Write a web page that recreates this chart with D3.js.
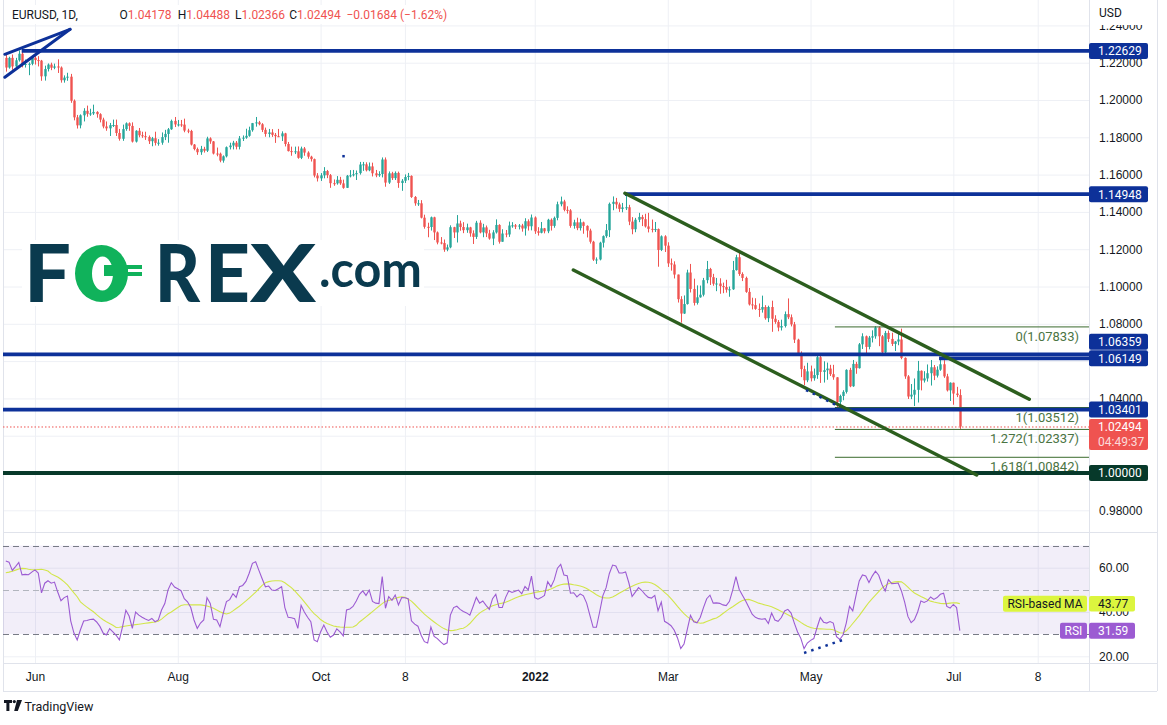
<!DOCTYPE html>
<html>
<head>
<meta charset="utf-8">
<script src="https://cdn.jsdelivr.net/npm/d3@7/dist/d3.min.js"></script>
<style>
  html, body { margin: 0; padding: 0; background: #ffffff; }
  svg { display: block; font-family: Roboto, "Liberation Sans", Arial, sans-serif; }
</style>
</head>
<body>
<svg id="chart" width="1167" height="725"></svg>
<script>
// ---------- EURUSD daily, 19 May 2021 – 5 Jul 2022 ----------
const symbolTitle = "EURUSD, 1D,";
const firstOpen = 1.2226;            // open of the first session; later opens follow the prior close
const closes = [
  1.2174,1.2226,1.2180,1.2213,1.2248,1.2192,1.2193,1.2194,1.2226,
  1.2214,1.2211,1.2127,1.2166,1.2190,1.2173,1.2180,1.2174,1.2106,1.2120,
  1.2125,1.1996,1.1907,1.1864,1.1918,1.1942,1.1926,1.1928,1.1936,1.1924,
  1.1895,1.1858,1.1848,1.1865,1.1866,1.1823,1.1792,1.1844,1.1875,1.1861,
  1.1777,1.1835,1.1811,1.1806,1.1802,1.1779,1.1795,1.1770,1.1771,1.1801,
  1.1818,1.1843,1.1888,1.1869,1.1869,1.1868,1.1836,1.1834,1.1761,1.1737,
  1.1720,1.1738,1.1728,1.1794,1.1778,1.1713,1.1712,1.1675,1.1698,1.1747,
  1.1756,1.1771,1.1749,1.1794,1.1798,1.1808,1.1838,1.1876,1.1880,1.1870,
  1.1840,1.1818,1.1826,1.1813,1.1806,1.1805,1.1821,1.1764,1.1726,1.1725,
  1.1725,1.1690,1.1740,1.1718,1.1696,1.1683,1.1595,1.1580,1.1596,1.1619,
  1.1597,1.1554,1.1553,1.1572,1.1553,1.1529,1.1594,1.1596,1.1602,1.1608,
  1.1654,1.1655,1.1623,1.1644,1.1607,1.1596,1.1603,1.1681,1.1557,1.1607,
  1.1581,1.1609,1.1555,1.1567,1.1587,1.1593,1.1480,1.1446,1.1446,1.1369,
  1.1320,1.1319,1.1371,1.1290,1.1236,1.1233,1.1198,1.1210,1.1318,1.1290,
  1.1338,1.1319,1.1302,1.1317,1.1285,1.1266,1.1342,1.1290,1.1317,1.1285,
  1.1257,1.1290,1.1330,1.1240,1.1284,1.1279,1.1327,1.1328,1.1321,1.1327,
  1.1311,1.1350,1.1323,1.1370,1.1296,1.1288,1.1312,1.1296,1.1358,1.1325,
  1.1368,1.1441,1.1456,1.1411,1.1408,1.1325,1.1344,1.1313,1.1344,1.1325,
  1.1300,1.1240,1.1144,1.1145,1.1235,1.1270,1.1302,1.1443,1.1454,1.1440,
  1.1416,1.1424,1.1425,1.1348,1.1307,1.1358,1.1373,1.1361,1.1322,1.1309,
  1.1307,1.1308,1.1196,1.1269,1.1219,1.1124,1.1118,1.1064,1.0932,1.0855,
  1.0906,1.1075,1.0987,1.0912,1.0942,1.0956,1.1034,1.1094,1.1050,1.1015,
  1.1016,1.1002,1.0997,1.0983,1.0985,1.1088,1.1157,1.1067,1.1046,1.0971,
  1.0904,1.0900,1.0880,1.0876,1.0890,1.0830,1.0890,1.0827,1.0810,1.0780,
  1.0788,1.0852,1.0835,1.0797,1.0715,1.0636,1.0557,1.0497,1.0545,1.0508,
  1.0525,1.0621,1.0542,1.0551,1.0560,1.0530,1.0513,1.0381,1.0413,1.0435,
  1.0553,1.0465,1.0585,1.0562,1.0690,1.0733,1.0676,1.0726,1.0733,1.0780,
  1.0733,1.0647,1.0751,1.0719,1.0692,1.0705,1.0716,1.0617,1.0518,1.0410,
  1.0420,1.0446,1.0548,1.0496,1.0507,1.0535,1.0567,1.0522,1.0554,1.0583,
  1.0518,1.0443,1.0484,1.0426,1.04178,1.02494
];
const highs = [
  1.2245,1.2232,1.2244,1.2226,1.2266,1.2263,1.2217,1.2202,1.2231,
  1.2254,1.2235,1.2215,1.2184,1.2196,1.2200,1.2195,1.2218,1.2180,1.2132,
  1.2146,1.2140,1.2003,1.1920,1.1923,1.1956,1.1970,1.1953,1.1975,1.1940,
  1.1929,1.1905,1.1885,1.1877,1.1895,1.1895,1.1845,1.1868,1.1880,1.1880,
  1.1880,1.1838,1.1850,1.1830,1.1830,1.1810,1.1802,1.1830,1.1790,1.1826,
  1.1840,1.1850,1.1895,1.1909,1.1893,1.1893,1.1900,1.1846,1.1840,1.1764,
  1.1745,1.1754,1.1749,1.1803,1.1800,1.1780,1.1745,1.1718,1.1703,1.1751,
  1.1771,1.1781,1.1780,1.1807,1.1810,1.1846,1.1857,1.1877,1.1909,1.1888,
  1.1876,1.1852,1.1845,1.1844,1.1823,1.1845,1.1832,1.1824,1.1775,1.1750,
  1.1750,1.1751,1.1750,1.1748,1.1725,1.1701,1.1686,1.1608,1.1608,1.1640,
  1.1625,1.1603,1.1574,1.1592,1.1588,1.1573,1.1598,1.1624,1.1625,1.1622,
  1.1668,1.1668,1.1666,1.1665,1.1664,1.1625,1.1618,1.1692,1.1692,1.1617,
  1.1615,1.1617,1.1616,1.1576,1.1601,1.1609,1.1596,1.1485,1.1464,1.1463,
  1.1385,1.1342,1.1375,1.1374,1.1295,1.1265,1.1252,1.1225,1.1328,1.1320,
  1.1383,1.1353,1.1345,1.1337,1.1320,1.1301,1.1352,1.1355,1.1336,1.1327,
  1.1304,1.1302,1.1360,1.1334,1.1307,1.1303,1.1348,1.1345,1.1335,1.1335,
  1.1336,1.1366,1.1360,1.1386,1.1376,1.1318,1.1346,1.1314,1.1363,1.1365,
  1.1375,1.1455,1.1482,1.1465,1.1430,1.1415,1.1358,1.1369,1.1363,1.1348,
  1.1328,1.1310,1.1245,1.1156,1.1240,1.1274,1.1335,1.1450,1.1483,1.1475,
  1.1450,1.1448,1.1495,1.1438,1.1372,1.1368,1.1395,1.1384,1.1390,1.1395,
  1.1359,1.1346,1.1311,1.1274,1.1275,1.1237,1.1150,1.1135,1.1064,1.0948,
  1.0952,1.1090,1.1121,1.1042,1.1006,1.1005,1.1046,1.1137,1.1100,1.1068,
  1.1046,1.1044,1.1021,1.1036,1.1000,1.1137,1.1170,1.1185,1.1076,1.1053,
  1.0992,1.0940,1.0937,1.0909,1.0951,1.0900,1.0897,1.0924,1.0846,1.0820,
  1.0822,1.0866,1.0936,1.0850,1.0810,1.0720,1.0652,1.0575,1.0591,1.0576,
  1.0560,1.0628,1.0641,1.0599,1.0592,1.0580,1.0580,1.0514,1.0420,1.0444,
  1.0556,1.0564,1.0606,1.0596,1.0697,1.0749,1.0737,1.0735,1.0765,1.0787,
  1.0786,1.0740,1.0762,1.0764,1.0752,1.0708,1.0749,1.0774,1.0620,1.0525,
  1.0477,1.0507,1.0601,1.0550,1.0546,1.0582,1.0606,1.0579,1.0572,1.0615,
  1.0605,1.0532,1.0486,1.0485,1.0462,1.04488
];
const lows = [
  1.2152,1.2168,1.2162,1.2162,1.2206,1.2175,1.2174,1.2133,1.2186,
  1.2190,1.2180,1.2103,1.2104,1.2153,1.2160,1.2165,1.2145,1.2093,1.2093,
  1.2103,1.1985,1.1891,1.1847,1.1848,1.1885,1.1910,1.1915,1.1920,1.1905,
  1.1880,1.1848,1.1835,1.1807,1.1855,1.1807,1.1782,1.1781,1.1835,1.1835,
  1.1772,1.1772,1.1800,1.1797,1.1786,1.1764,1.1752,1.1756,1.1755,1.1760,
  1.1785,1.1771,1.1840,1.1855,1.1858,1.1856,1.1827,1.1822,1.1756,1.1730,
  1.1706,1.1706,1.1718,1.1721,1.1765,1.1708,1.1698,1.1666,1.1664,1.1692,
  1.1735,1.1735,1.1735,1.1735,1.1780,1.1792,1.1803,1.1830,1.1857,1.1864,
  1.1828,1.1803,1.1800,1.1802,1.1770,1.1801,1.1780,1.1751,1.1724,1.1701,
  1.1710,1.1685,1.1683,1.1701,1.1685,1.1670,1.1585,1.1563,1.1566,1.1580,
  1.1581,1.1529,1.1540,1.1546,1.1545,1.1524,1.1528,1.1585,1.1590,1.1571,
  1.1600,1.1620,1.1617,1.1618,1.1590,1.1586,1.1588,1.1585,1.1535,1.1550,
  1.1571,1.1571,1.1529,1.1513,1.1555,1.1570,1.1475,1.1433,1.1432,1.1365,
  1.1310,1.1264,1.1300,1.1249,1.1226,1.1226,1.1186,1.1189,1.1205,1.1260,
  1.1236,1.1299,1.1286,1.1288,1.1267,1.1228,1.1255,1.1285,1.1264,1.1265,
  1.1251,1.1222,1.1284,1.1230,1.1246,1.1264,1.1266,1.1315,1.1308,1.1306,
  1.1294,1.1273,1.1300,1.1301,1.1282,1.1273,1.1285,1.1285,1.1286,1.1300,
  1.1315,1.1355,1.1430,1.1403,1.1391,1.1315,1.1310,1.1302,1.1300,1.1283,
  1.1263,1.1230,1.1137,1.1121,1.1140,1.1209,1.1261,1.1265,1.1409,1.1418,
  1.1400,1.1398,1.1410,1.1329,1.1280,1.1291,1.1345,1.1324,1.1316,1.1290,
  1.1290,1.1292,1.1106,1.1190,1.1185,1.1105,1.1085,1.1043,1.0914,1.0806,
  1.0853,1.0903,1.0968,1.0898,1.0903,1.0940,1.0947,1.1017,1.1008,1.1004,
  1.0975,1.0961,1.0964,1.0967,1.0945,1.0982,1.1085,1.1057,1.1029,1.0966,
  1.0898,1.0877,1.0875,1.0837,1.0860,1.0822,1.0809,1.0757,1.0800,1.0760,
  1.0764,1.0780,1.0825,1.0786,1.0697,1.0632,1.0514,1.0471,1.0487,1.0491,
  1.0495,1.0505,1.0483,1.0485,1.0500,1.0520,1.0500,1.0354,1.0349,1.0390,
  1.0426,1.0460,1.0462,1.0532,1.0560,1.0665,1.0642,1.0663,1.0700,1.0720,
  1.0680,1.0627,1.0640,1.0702,1.0681,1.0654,1.0685,1.0610,1.0505,1.0397,
  1.0396,1.0359,1.0378,1.0443,1.0485,1.0490,1.0469,1.0498,1.0512,1.0548,
  1.0510,1.0437,1.0386,1.0366,1.0407,1.02366
];

// RSI (14) and its moving average, one value per session
const rsiValues = [
  63,62.5,58.8,60.5,62.4,56.8,57,56.8,58,
  59,57.6,48.6,53,54.1,53,53.5,49,45.1,46.5,
  47.2,36,30.5,27.4,32,35.9,36.2,36.6,36.8,35.5,
  33.5,30.5,29.6,32.5,31,29.5,27.4,33.5,40.8,38.2,
  32.6,40,38.6,37.6,36.8,36.2,37.1,35.6,36.4,40.9,
  43.8,50,53.2,51.3,50.5,49.6,46,44.6,42,36.4,
  32.6,35,36.4,46.5,43.9,36.7,36.4,33.4,39.4,44.7,
  45.6,48.3,46.6,51.4,52,53.8,57.5,62,62.7,58.8,
  55,51.4,51.7,49.9,49.7,50.5,51.4,42,37.6,37.4,
  37,32.6,43,40,37.6,35.6,27.4,26.6,31,34.1,
  31,28.6,29.6,32.4,31,29.2,40.9,41.4,42.5,45,
  48,49.5,47.5,49.9,44.8,44,43.8,56,41.7,46.9,
  45.3,47.7,43.2,46.5,46.4,46,36,34.5,33.6,29.5,
  26.6,26,33.2,29,28,26.5,25.3,26.1,38.6,42,
  42.6,41.2,40.2,39.6,38.6,42.5,46.6,44,45,43,
  41.2,46,48,42,42,46.5,49.6,48.8,49.4,49.9,
  48.2,51.5,50,56.2,46.5,45.8,46.5,47.5,53.7,51.4,
  54.5,59.8,61.5,56.7,56.4,48.5,48.7,46.8,48.2,47.3,
  44,38.5,33.1,33.1,40,47.4,51,57.4,61.2,60.8,
  57.6,57.6,58.1,53.2,47,49,51,49.7,48,46.6,
  46.3,47.5,40.6,44.5,35.8,34.9,33.8,31.8,28.3,23.5,
  25.5,32,38.5,35.6,35.1,37.5,42,46,47.6,44,
  44.1,43.9,43.2,42.9,44.8,49.9,56,50.3,47.6,45,
  42,39,37.6,37,36.7,37,34.8,39.5,36.4,35.8,
  37.5,40.5,41.2,39.5,35,31,28.1,23.5,26,27.2,
  28,33,37.5,35.4,35,35.7,35,28.9,27.6,29.6,
  35,42.5,40.5,47.4,54,56.7,56.3,53.3,56.2,58.4,
  56.6,52.4,49.5,54.6,52.8,52.9,53.1,49.5,44.5,38,
  35.2,36.5,40,45,44.3,45,46.8,45.7,46.5,48,
  48.5,42.5,41.8,43.4,42,31.59
];
const rsiMaValues = [
  57.7,58.0,58.4,58.9,59.4,59.7,59.6,59.3,59.1,
  59.0,59.2,59.3,59.0,58.5,57.2,56.5,55.8,54.8,53.6,
  52.2,50.4,48.6,46.9,44.6,43.3,42.2,41.1,40.1,38.8,
  37.6,36.5,35.6,34.8,34.0,33.0,33.1,33.4,33.7,33.9,
  34.1,34.3,34.5,34.7,34.9,35.1,35.3,35.5,35.8,36.8,
  38.0,39.2,40.0,41.0,42.0,42.9,43.3,43.3,43.2,43.2,
  43.2,43.2,43.0,42.7,42.3,41.7,40.9,40.1,39.5,39.1,
  39.5,40.5,41.6,42.6,43.8,45.0,46.3,47.6,49.0,50.5,
  52.0,53.2,53.7,54.0,54.1,54.1,54.0,53.2,52.1,51.0,
  49.6,48.0,46.4,44.6,42.8,40.9,39.3,38.0,36.6,35.6,
  34.8,34.2,33.7,33.4,33.2,33.1,33.1,33.1,33.2,34.0,
  35.5,36.6,37.8,39.0,40.2,41.4,42.6,43.8,44.8,45.2,
  45.7,46.1,46.6,46.9,46.6,45.8,44.9,43.5,42.0,40.5,
  39.0,37.8,36.6,35.5,34.4,33.4,32.5,31.9,31.6,31.7,
  32.0,32.4,32.7,33.5,34.8,36.4,38.1,39.5,40.5,41.3,
  42.2,42.8,43.3,43.7,44.0,44.4,45.0,45.6,46.3,46.9,
  47.4,47.8,48.1,48.4,48.8,49.1,49.3,49.5,49.9,50.4,
  51.1,51.8,52.3,52.6,52.7,52.6,52.3,52.1,51.7,51.3,
  50.6,49.7,48.8,47.8,47.0,46.5,46.3,46.3,46.8,47.6,
  48.5,49.3,50.1,50.9,51.6,52.3,52.9,53.3,53.5,53.4,
  53.1,52.4,51.4,50.2,48.9,47.6,46.0,44.3,42.5,40.8,
  39.3,37.9,36.8,36.0,35.3,34.9,35.1,35.7,36.3,36.9,
  37.3,38.2,39.3,40.4,41.5,42.4,43.4,44.4,45.2,45.6,
  45.7,45.2,44.6,44.0,43.6,43.2,42.8,42.4,41.7,41.0,
  40.2,39.5,38.8,38.0,37.2,36.3,35.3,34.4,33.6,33.0,
  32.7,32.5,32.4,32.3,32.2,32.2,32.0,31.3,30.6,30.5,
  31.5,33.0,34.8,36.6,38.4,40.4,42.4,44.4,46.0,47.6,
  49.2,50.8,51.9,52.8,53.3,53.6,53.7,53.6,52.6,51.2,
  49.8,48.6,47.8,47.0,46.3,45.5,44.9,44.5,44.2,43.9,
  43.8,43.8,44.0,44.2,44.1,43.77
];

// Axis ticks
const priceTicks = [1.24, 1.22, 1.20, 1.18, 1.16, 1.14, 1.12, 1.10, 1.08, 1.06, 1.04, 1.02, 1.00, 0.98];
const rsiTicks = [60, 40, 20];
const rsiBands = [70, 50, 30];
const timeTickBars = [9, 53, 97, 123, 163, 204, 248, 292, 318];
const timeTickLabels = ["Jun", "Aug", "Oct", "8", "2022", "Mar", "May", "Jul", "8"];

// Drawn levels and studies (bar number, price)
const keyLevels = [1.22629, 1.14948, 1.06359, 1.06149, 1.03401, 1.00000];
const keyLevelStartBars = [4.9, 190.8, null, 287.6, null, null];
const fibRatios = ["0", "1", "1.272", "1.618"];
const fibPrices = [1.07833, 1.03512, 1.02337, 1.00842];
const fibStartBar = 255.5;
const wedgeLines = [[[-0.3, 1.2245], [19.8, 1.2379]], [[-0.3, 1.2122], [19.8, 1.2379]]];
const channelLines = [[[190.8, 1.14997], [315.4, 1.03952]], [[174.9, 1.10885], [299.2, 0.99893]]];
const priceDivergence = [[246.6, 1.0445], [256.5, 1.0359]];
const rsiDivergence = [[246.0, 21.5], [258.0, 27.4]];
const priceMarker = [104, 1.1700];
const countdown = "04:49:37";

// ---------- layout ----------
const L = { left: 3, paneRight: 1089, right: 1157, mainBottom: 532, rsiTop: 533, rsiBottom: 663, axisBottom: 691 };
const C = {
  up: "#26a69a", down: "#ef5350", grid: "#eef0f5", text: "#131722", border: "#e0e3eb",
  blue: "#0d3199", darkGreen: "#07392a", channel: "#2c5e1e", fib: "#3a6a2c", fibText: "#4a7443",
  rsi: "#9c5bd2", rsiMa: "#d2e64a", rsiMaTag: "#dcf53e", brand: "#0a3a4e", brandGreen: "#10b25b"
};

const svg = d3.select("#chart");
const n = closes.length;
const opens = closes.map((c, i) => i === 0 ? firstOpen : closes[i - 1]);

const x = d3.scaleLinear().domain([0, n - 1]).range([5.8, 5.8 + (n - 1) * 3.245]);
const y = d3.scaleLinear().domain([0.98, 1.24]).range([510.3, 25.4]);
const yr = d3.scaleLinear().domain([20, 60]).range([656.3, 567.7]);
const fmt5 = d3.format(".5f"), fmt2 = d3.format(".2f");

const defs = svg.append("defs");
defs.append("clipPath").attr("id", "clipMain").append("rect")
  .attr("x", L.left).attr("y", 0).attr("width", L.paneRight - L.left).attr("height", L.mainBottom);
defs.append("clipPath").attr("id", "clipRsi").append("rect")
  .attr("x", L.left).attr("y", L.rsiTop).attr("width", L.paneRight - L.left).attr("height", L.rsiBottom - L.rsiTop);

// ---------- grid ----------
svg.append("g").attr("transform", `translate(0,${L.rsiBottom})`)
  .call(d3.axisBottom(x).tickValues(timeTickBars).tickSize(-L.rsiBottom).tickFormat(""))
  .call(g => g.select(".domain").remove())
  .call(g => g.selectAll("line").attr("stroke", C.grid));
svg.append("g").attr("transform", `translate(${L.paneRight},0)`)
  .call(d3.axisLeft(y).tickValues(priceTicks).tickSize(L.paneRight - L.left).tickFormat(""))
  .call(g => g.select(".domain").remove())
  .call(g => g.selectAll("line").attr("stroke", C.grid));
svg.append("g").attr("transform", `translate(${L.paneRight},0)`)
  .call(d3.axisLeft(yr).tickValues(rsiTicks).tickSize(L.paneRight - L.left).tickFormat(""))
  .call(g => g.select(".domain").remove())
  .call(g => g.selectAll("line").attr("stroke", C.grid));

// ---------- frame ----------
const frame = svg.append("g").attr("stroke", C.border).attr("stroke-width", 1).attr("fill", "none");
frame.append("line").attr("x1", L.left + 0.5).attr("x2", L.left + 0.5).attr("y1", 0).attr("y2", L.axisBottom);
frame.append("line").attr("x1", L.paneRight + 0.5).attr("x2", L.paneRight + 0.5).attr("y1", 0).attr("y2", L.axisBottom);
frame.append("line").attr("x1", L.right + 0.5).attr("x2", L.right + 0.5).attr("y1", 0).attr("y2", L.axisBottom);
frame.append("line").attr("x1", L.left).attr("x2", L.right).attr("y1", L.mainBottom + 0.5).attr("y2", L.mainBottom + 0.5);
frame.append("line").attr("x1", L.left).attr("x2", L.right).attr("y1", L.rsiBottom + 0.5).attr("y2", L.rsiBottom + 0.5);
frame.append("line").attr("x1", L.left).attr("x2", L.right).attr("y1", L.axisBottom + 0.5).attr("y2", L.axisBottom + 0.5);

// ---------- candles ----------
const main = svg.append("g").attr("clip-path", "url(#clipMain)");
const candles = main.append("g").selectAll("g").data(d3.range(n)).join("g")
  .attr("fill", i => closes[i] >= opens[i] ? C.up : C.down)
  .attr("stroke", i => closes[i] >= opens[i] ? C.up : C.down);
candles.append("line")
  .attr("x1", i => Math.round(x(i)) + 0.5).attr("x2", i => Math.round(x(i)) + 0.5)
  .attr("y1", i => y(Math.max(highs[i], opens[i], closes[i])))
  .attr("y2", i => y(Math.min(lows[i], opens[i], closes[i])))
  .attr("stroke-width", 1);
candles.append("rect")
  .attr("stroke", "none")
  .attr("x", i => Math.round(x(i)) - 0.7).attr("width", 2.4)
  .attr("y", i => y(Math.max(opens[i], closes[i])))
  .attr("height", i => Math.max(1, Math.abs(y(opens[i]) - y(closes[i]))));

// ---------- drawings on the price pane ----------
const line = d3.line().x(d => x(d[0])).y(d => y(d[1]));

// current price (dotted)
main.append("line")
  .attr("x1", L.left).attr("x2", L.paneRight)
  .attr("y1", y(closes[n - 1]) + 0.5).attr("y2", y(closes[n - 1]) + 0.5)
  .attr("stroke", C.down).attr("stroke-width", 1).attr("stroke-dasharray", "1.5,2");

// fibonacci extension
const fib = main.append("g");
fibPrices.forEach((p, i) => {
  fib.append("line").attr("x1", x(fibStartBar)).attr("x2", L.paneRight)
    .attr("y1", y(p)).attr("y2", y(p)).attr("stroke", C.fib).attr("stroke-width", 1);
  fib.append("text").attr("x", 1079).attr("y", y(p) + 14)
    .attr("text-anchor", "end").attr("font-size", 13).attr("fill", C.fibText)
    .text(`${fibRatios[i]}(${fmt5(p)})`);
});

// horizontal key levels
keyLevels.forEach((p, i) => {
  const start = keyLevelStartBars[i] == null ? L.left : x(keyLevelStartBars[i]);
  main.append("line").attr("x1", start).attr("x2", L.paneRight)
    .attr("y1", y(p)).attr("y2", y(p))
    .attr("stroke", p === 1 ? C.darkGreen : C.blue).attr("stroke-width", 3.8);
});

// descending channel
channelLines.forEach(seg => {
  main.append("path").attr("d", line(seg)).attr("fill", "none")
    .attr("stroke", C.channel).attr("stroke-width", 3.5).attr("stroke-linecap", "round");
});

// rising wedge at the top
wedgeLines.forEach(seg => {
  main.append("path").attr("d", line(seg)).attr("fill", "none")
    .attr("stroke", C.blue).attr("stroke-width", 3).attr("stroke-linecap", "round");
});

// divergence on price
main.append("path").attr("d", line(priceDivergence)).attr("fill", "none")
  .attr("stroke", C.blue).attr("stroke-width", 2.5).attr("stroke-dasharray", "2.5,5");
main.append("rect").attr("x", x(priceMarker[0]) - 1).attr("y", y(priceMarker[1]) - 1)
  .attr("width", 2.5).attr("height", 2.5).attr("fill", C.blue);

// ---------- FOREX.com watermark ----------
const logo = main.append("g");
logo.append("rect").attr("x", 22).attr("y", 240).attr("width", 402).attr("height", 66).attr("fill", "#fff");
const letter = (t, lx, w) => logo.append("text").attr("x", lx).attr("y", 302)
  .attr("font-family", "Lato, 'Open Sans', sans-serif").attr("font-weight", 900).attr("font-size", 80)
  .attr("fill", C.brand).attr("textLength", w).attr("lengthAdjust", "spacingAndGlyphs").text(t);
letter("F", 24, 47);
letter("R", 155, 45);
letter("E", 205, 45);
letter("X", 250, 66);
const ell = (cx, cy, rx, ry) => `M${cx - rx},${cy}a${rx},${ry} 0 1,0 ${2 * rx},0a${rx},${ry} 0 1,0 ${-2 * rx},0Z`;
logo.append("path").attr("d", ell(101.5, 273.5, 26.5, 28.5) + ell(102.5, 273.5, 10.5, 17))
  .attr("fill", C.brandGreen).attr("fill-rule", "evenodd");
logo.append("rect").attr("x", 104).attr("y", 265).attr("width", 24).attr("height", 11).attr("fill", C.brandGreen);
logo.append("rect").attr("x", 127).attr("y", 265).attr("width", 15).attr("height", 4).attr("fill", C.brandGreen);
logo.append("rect").attr("x", 127).attr("y", 272).attr("width", 15).attr("height", 4).attr("fill", C.brandGreen);
logo.append("text").attr("x", 319).attr("y", 287)
  .attr("font-family", "Lato, 'Open Sans', sans-serif").attr("font-weight", 700).attr("font-size", 50)
  .attr("fill", C.brand).attr("textLength", 103).attr("lengthAdjust", "spacingAndGlyphs").text(".com");

// ---------- RSI pane ----------
const rsiG = svg.append("g").attr("clip-path", "url(#clipRsi)");
rsiG.append("rect").attr("x", L.left).attr("width", L.paneRight - L.left)
  .attr("y", yr(70)).attr("height", yr(30) - yr(70)).attr("fill", "rgba(126,87,194,0.1)");
rsiBands.forEach(v => {
  rsiG.append("line").attr("x1", L.left).attr("x2", L.paneRight)
    .attr("y1", Math.round(yr(v)) + 0.5).attr("y2", Math.round(yr(v)) + 0.5)
    .attr("stroke", v === 50 ? "#b2b5be" : "#787b86").attr("stroke-width", 1).attr("stroke-dasharray", "6,4");
});
const rsiLine = d3.line().x((d, i) => x(i)).y(d => yr(d));
rsiG.append("path").attr("d", rsiLine(rsiMaValues)).attr("fill", "none")
  .attr("stroke", C.rsiMa).attr("stroke-width", 1.1);
rsiG.append("path").attr("d", rsiLine(rsiValues)).attr("fill", "none")
  .attr("stroke", C.rsi).attr("stroke-width", 1.1);
rsiG.append("path").attr("d", d3.line().x(d => x(d[0])).y(d => yr(d[1]))(rsiDivergence))
  .attr("fill", "none").attr("stroke", C.blue).attr("stroke-width", 2.5).attr("stroke-dasharray", "2.5,5");

// ---------- price-scale tags (positions needed before the axis labels) ----------
const lastY = y(closes[n - 1]);
const tagPos = keyLevels.map(p => y(p));
const order = d3.range(keyLevels.length).sort((a, b) => tagPos[b] - tagPos[a]);
for (let k = 1; k < order.length; k++) {
  const lower = order[k - 1], upper = order[k];
  if (tagPos[lower] - tagPos[upper] < 16.6) tagPos[upper] = tagPos[lower] - 16.6;
}
const tagSpans = tagPos.map(t => [t - 8, t + 8]).concat([[lastY - 7.5, lastY + 23.5]]);
const coveredByTag = v => tagSpans.some(([a, b]) => y(v) > a && y(v) < b);

// ---------- axes ----------
const priceAxis = svg.append("g").attr("transform", `translate(${L.paneRight},0)`)
  .call(d3.axisRight(y).tickValues(priceTicks.filter(v => !coveredByTag(v)))
    .tickSize(0).tickPadding(10).tickFormat(fmt5));
priceAxis.select(".domain").remove();
priceAxis.selectAll("text").attr("font-size", 12).attr("fill", C.text).attr("font-family", null);

const rsiAxis = svg.append("g").attr("transform", `translate(${L.paneRight},0)`)
  .call(d3.axisRight(yr).tickValues(rsiTicks).tickSize(0).tickPadding(10).tickFormat(fmt2));
rsiAxis.select(".domain").remove();
rsiAxis.selectAll("text").attr("font-size", 12).attr("fill", C.text).attr("font-family", null);

const timeAxis = svg.append("g").attr("transform", `translate(0,${L.rsiBottom})`)
  .call(d3.axisBottom(x).tickValues(timeTickBars).tickSize(0).tickPadding(9)
    .tickFormat((d, i) => timeTickLabels[i]));
timeAxis.select(".domain").remove();
timeAxis.selectAll("text").attr("font-size", 12).attr("fill", C.text).attr("font-family", null)
  .attr("font-weight", (d, i) => /^\d{4}$/.test(timeTickLabels[i]) ? 700 : 400);

// USD caption over the top of the scale
svg.append("rect").attr("x", L.paneRight + 1).attr("y", 0).attr("width", L.right - L.paneRight - 1).attr("height", 25).attr("fill", "#fff");
svg.append("text").attr("x", 1099).attr("y", 17).attr("font-size", 12).attr("fill", C.text).text("USD");

// ---------- scale tags ----------
function tag(cy, label, bg, fg, w, h) {
  const g = svg.append("g");
  g.append("rect").attr("x", L.paneRight).attr("y", cy - h / 2).attr("width", w).attr("height", h)
    .attr("rx", 2).attr("fill", bg);
  g.append("text").attr("x", 1098).attr("y", cy + 4.3).attr("font-size", 12)
    .attr("fill", fg).text(label);
  return g;
}
keyLevels.forEach((p, i) => tag(tagPos[i], fmt5(p), p === 1 ? C.darkGreen : C.blue, "#fff", 59, 16));

// last price tag with session countdown
const lt = svg.append("g");
lt.append("rect").attr("x", L.paneRight).attr("y", lastY - 7.5).attr("width", 59).attr("height", 31)
  .attr("rx", 2).attr("fill", C.down);
lt.append("text").attr("x", 1098).attr("y", lastY + 5).attr("font-size", 12).attr("fill", "#fff").text(fmt5(closes[n - 1]));
lt.append("text").attr("x", 1098).attr("y", lastY + 20).attr("font-size", 12).attr("fill", "rgba(255,255,255,0.8)").text(countdown);

// RSI tags
const maLast = rsiMaValues[n - 1], rsiLast = rsiValues[n - 1];
tag(yr(maLast), fmt2(maLast), C.rsiMaTag, C.text, 46, 15.5);
tag(yr(rsiLast), fmt2(rsiLast), C.rsi, "#fff", 46, 16);
const paneLabel = (cy, label, bg, fg, w) => {
  svg.append("rect").attr("x", L.paneRight - 2 - w).attr("y", cy - 8).attr("width", w).attr("height", 16)
    .attr("rx", 2).attr("fill", bg);
  svg.append("text").attr("x", L.paneRight - 2 - w / 2).attr("y", cy + 4.3).attr("text-anchor", "middle")
    .attr("font-size", 12).attr("fill", fg).text(label);
};
paneLabel(yr(maLast), "RSI-based MA", C.rsiMaTag, C.text, 84);
paneLabel(yr(rsiLast), "RSI", C.rsi, "#fff", 27);

// ---------- legend ----------
const o = opens[n - 1], h = highs[n - 1], l = lows[n - 1], c = closes[n - 1];
const chg = c - o, pct = chg / o * 100;
const sign = v => v < 0 ? "\u2212" : "+";
svg.append("rect").attr("x", 6).attr("y", 5).attr("width", 78).attr("height", 19).attr("fill", "#fff");
svg.append("rect").attr("x", 115).attr("y", 5).attr("width", 341).attr("height", 19).attr("fill", "#fff");
svg.append("text").attr("x", 12).attr("y", 19).attr("font-size", 12).attr("fill", C.text).text(symbolTitle);
const legend = [["O", fmt5(o), 119.5], ["H", fmt5(h), 177.7], ["L", fmt5(l), 235], ["C", fmt5(c), 289.3]];
legend.forEach(([k, v, lx]) => {
  const t = svg.append("text").attr("x", lx).attr("y", 19).attr("font-size", 12);
  t.append("tspan").attr("fill", C.text).text(k);
  t.append("tspan").attr("fill", C.down).text(v);
});
svg.append("text").attr("x", 346.5).attr("y", 19).attr("font-size", 12).attr("fill", C.down)
  .text(`${sign(chg)}${Math.abs(chg).toFixed(5)} (${sign(pct)}${Math.abs(pct).toFixed(2)}%)`);

// ---------- TradingView credit ----------
const tv = svg.append("g").attr("fill", C.text);
tv.append("path").attr("d", "M4,700h8v3h-2.6v8h-3v-8h-2.4z");
tv.append("circle").attr("cx", 14.3).attr("cy", 701.6).attr("r", 1.6);
tv.append("path").attr("d", "M17,700h5l-4.2,11h-3.6z");
tv.append("text").attr("x", 24.5).attr("y", 711).attr("font-size", 12.5).text("TradingView");
</script>
</body>
</html>
